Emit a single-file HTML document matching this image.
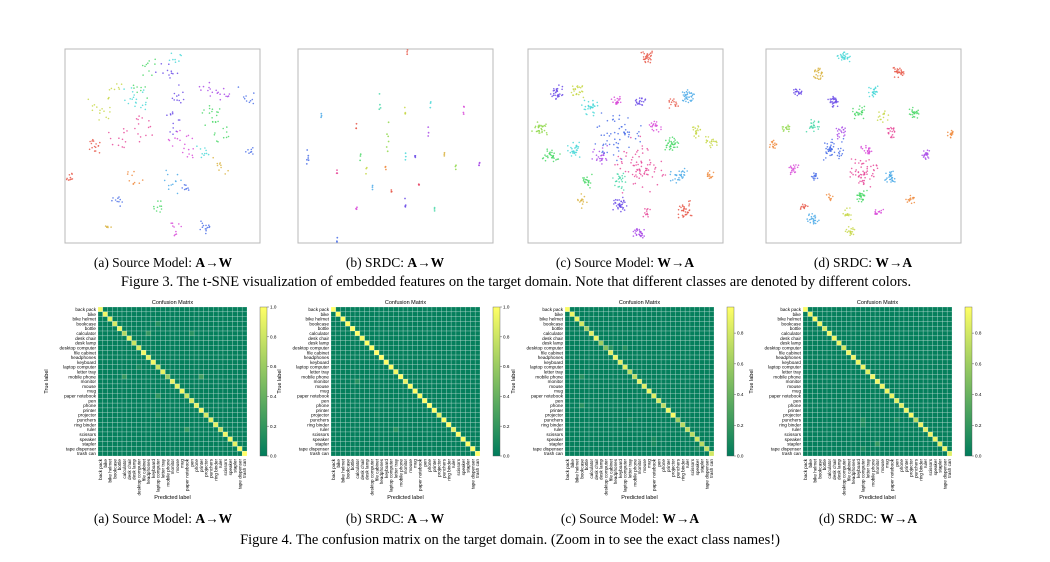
<!DOCTYPE html>
<html><head><meta charset="utf-8"><style>
body{margin:0;background:#fff}
svg text{font-family:"Liberation Serif",serif}
svg text.sans{font-family:"Liberation Sans",sans-serif}
</style></head><body>
<svg id="fig" width="1050" height="557" viewBox="0 0 1050 557" xmlns="http://www.w3.org/2000/svg">
<rect width="1050" height="557" fill="#fff"/>
<g id="tsne"></g><g id="cms"></g>
<g font-size="13.5" text-anchor="middle" fill="#000">
<text x="163" y="267">(a) Source Model: <tspan font-weight="bold">A</tspan>→<tspan font-weight="bold">W</tspan></text>
<text x="395" y="267">(b) SRDC: <tspan font-weight="bold">A</tspan>→<tspan font-weight="bold">W</tspan></text>
<text x="625" y="267">(c) Source Model: <tspan font-weight="bold">W</tspan>→<tspan font-weight="bold">A</tspan></text>
<text x="863" y="267">(d) SRDC: <tspan font-weight="bold">W</tspan>→<tspan font-weight="bold">A</tspan></text>
<text x="516" y="286" font-size="14.5">Figure 3. The t-SNE visualization of embedded features on the target domain. Note that different classes are denoted by different colors.</text>
<text x="163" y="523">(a) Source Model: <tspan font-weight="bold">A</tspan>→<tspan font-weight="bold">W</tspan></text>
<text x="395" y="523">(b) SRDC: <tspan font-weight="bold">A</tspan>→<tspan font-weight="bold">W</tspan></text>
<text x="630" y="523">(c) Source Model: <tspan font-weight="bold">W</tspan>→<tspan font-weight="bold">A</tspan></text>
<text x="868" y="523">(d) SRDC: <tspan font-weight="bold">W</tspan>→<tspan font-weight="bold">A</tspan></text>
<text x="510" y="544" font-size="14.5">Figure 4. The confusion matrix on the target domain. (Zoom in to see the exact class names!)</text>
</g>
</svg>
<script>
const NS="http://www.w3.org/2000/svg";
function mk(tag,attrs,parent){const e=document.createElementNS(NS,tag);for(const k in attrs)e.setAttribute(k,attrs[k]);parent.appendChild(e);return e;}
const palette=["#e8594a","#f08b3e","#d9b340","#c8d84a","#8fd84a","#4ad867","#4ad8a9","#4ad8d8","#4aa9e8","#4a6ee8","#6a4ae8","#a94ae8","#d84ad8","#e84a9a","#e84a6a"];
// t-SNE clusters: [x(0-1), y(0-1), colorIdx, nPoints, spread]
const tsneA=[[0.55,0.05,7,8,0.04],[0.42,0.1,5,10,0.05],[0.53,0.13,10,12,0.05],[0.38,0.2,5,8,0.04],[0.25,0.2,3,8,0.04],[0.36,0.27,7,20,0.05],[0.18,0.3,3,16,0.05],[0.58,0.24,10,10,0.04],[0.74,0.21,11,12,0.04],[0.83,0.24,11,8,0.03],[0.93,0.24,9,10,0.04],[0.76,0.34,5,18,0.05],[0.8,0.44,5,10,0.04],[0.55,0.38,10,12,0.05],[0.4,0.4,13,14,0.06],[0.28,0.46,13,12,0.05],[0.16,0.5,0,16,0.03],[0.6,0.5,12,20,0.06],[0.72,0.53,7,10,0.04],[0.8,0.6,2,10,0.04],[0.95,0.52,9,8,0.02],[0.03,0.66,0,10,0.02],[0.35,0.66,1,10,0.04],[0.55,0.68,8,12,0.05],[0.62,0.72,9,8,0.03],[0.26,0.78,9,10,0.03],[0.47,0.82,5,10,0.03],[0.22,0.91,2,6,0.02],[0.57,0.92,12,10,0.03],[0.72,0.92,9,14,0.03]];
const tsneB=[[0.56,0.01,0,3,0.005],[0.42,0.27,6,4,0.01],[0.55,0.32,3,4,0.008],[0.68,0.3,7,3,0.008],[0.12,0.36,8,3,0.008],[0.85,0.32,12,4,0.008],[0.3,0.4,0,3,0.008],[0.46,0.45,4,6,0.02],[0.67,0.42,11,3,0.008],[0.05,0.58,9,6,0.02],[0.32,0.55,5,3,0.008],[0.55,0.55,7,3,0.008],[0.6,0.58,10,4,0.01],[0.45,0.6,1,3,0.008],[0.75,0.55,2,3,0.008],[0.93,0.57,11,4,0.01],[0.2,0.63,13,3,0.008],[0.62,0.7,14,3,0.008],[0.38,0.72,8,3,0.008],[0.55,0.8,10,4,0.01],[0.3,0.8,12,3,0.008],[0.7,0.82,6,3,0.008],[0.48,0.72,0,3,0.008],[0.81,0.61,4,3,0.008],[0.2,0.98,9,3,0.005],[0.35,0.62,3,3,0.008]];
const tsneC=[[0.61,0.04,0,30,0.025],[0.15,0.22,10,30,0.03],[0.26,0.22,3,25,0.03],[0.32,0.3,7,30,0.035],[0.46,0.27,12,20,0.025],[0.57,0.27,10,20,0.025],[0.74,0.27,0,15,0.03],[0.82,0.25,8,35,0.03],[0.06,0.41,4,30,0.03],[0.24,0.52,7,30,0.03],[0.12,0.55,5,30,0.035],[0.65,0.4,12,20,0.025],[0.74,0.49,5,35,0.03],[0.86,0.43,3,20,0.03],[0.94,0.48,3,20,0.025],[0.37,0.55,11,25,0.04],[0.45,0.45,9,60,0.1],[0.58,0.6,13,80,0.11],[0.3,0.68,5,20,0.03],[0.48,0.68,6,25,0.04],[0.77,0.65,8,30,0.035],[0.93,0.65,1,15,0.02],[0.28,0.78,2,15,0.03],[0.47,0.8,10,35,0.03],[0.61,0.84,13,12,0.02],[0.81,0.83,0,35,0.035],[0.57,0.95,11,30,0.025]];
const tsneD=[[0.4,0.04,7,30,0.025],[0.27,0.13,2,25,0.025],[0.68,0.12,0,30,0.025],[0.16,0.22,10,20,0.02],[0.34,0.27,10,30,0.025],[0.55,0.22,7,25,0.025],[0.48,0.33,5,25,0.03],[0.6,0.35,3,15,0.025],[0.76,0.33,5,25,0.025],[0.1,0.41,4,15,0.02],[0.24,0.4,6,25,0.03],[0.38,0.43,11,20,0.025],[0.64,0.43,13,20,0.025],[0.95,0.44,1,15,0.02],[0.04,0.49,1,15,0.02],[0.34,0.53,9,50,0.05],[0.52,0.52,12,20,0.025],[0.82,0.54,11,20,0.025],[0.5,0.64,13,60,0.06],[0.14,0.62,12,20,0.02],[0.25,0.66,9,15,0.02],[0.64,0.66,8,30,0.025],[0.49,0.76,5,30,0.025],[0.33,0.76,1,10,0.015],[0.74,0.78,1,15,0.02],[0.19,0.81,0,12,0.02],[0.42,0.85,3,15,0.025],[0.58,0.84,12,15,0.02],[0.24,0.87,8,25,0.025],[0.43,0.94,3,20,0.02]];
const tsnePanels=[[65,tsneA,"a"],[298,tsneB,"b"],[528,tsneC,"c"],[766,tsneD,"d"]];
let seed=7;function rnd(){seed=(seed*16807)%2147483647;return seed/2147483647;}
const tg=document.getElementById('tsne');
tsnePanels.forEach(([x0,cl,id],pi)=>{
  const g=mk('g',{},tg);
  
  
  const fr=mk('rect',{x:x0,y:49,width:195,height:194,fill:'#fff',stroke:'#b8b8b8','stroke-width':1},g);
  
  
  cl.forEach((c,ci)=>{
    const cg=mk('g',{fill:palette[c[2]]},g);
    
    
    const stretch=pi===1?[0.3,3]:[1,1];
    for(let k=0;k<c[3];k++){
      const dx=(rnd()+rnd()-1)*c[4]*1.4*stretch[0], dy=(rnd()+rnd()-1)*c[4]*1.4*stretch[1];
      const px=Math.min(0.995,Math.max(0.005,c[0]+dx)), py=Math.min(0.995,Math.max(0.005,c[1]+dy));
      mk('circle',{cx:(x0+px*195).toFixed(1),cy:(49+py*194).toFixed(1),r:pi===1?0.9:0.8,'fill-opacity':0.85},cg);
    }
  });
});
// Confusion matrices
const classes=["back pack","bike","bike helmet","bookcase","bottle","calculator","desk chair","desk lamp","desktop computer","file cabinet","headphones","keyboard","laptop computer","letter tray","mobile phone","monitor","mouse","mug","paper notebook","pen","phone","printer","projector","punchers","ring binder","ruler","scissors","speaker","stapler","tape dispenser","trash can"];
const diagA=[0.95,0.95,0.9,0.85,0.9,0.7,0.9,0.8,0.85,0.95,0.9,0.95,0.8,0.9,0.6,0.9,0.9,0.95,0.8,0.85,0.9,0.95,0.85,0.9,0.9,0.75,0.95,0.95,0.9,0.95,1.0];
const diagB=[1,1,1,1,1,1,0.97,1,1,1,1,1,1,0.95,1,0.9,1,1,1,1,1,1,0.9,1,1,0.9,1,1,1,1,1];
const diagC=[0.95,0.9,0.9,0.8,0.6,0.85,0.9,0.6,0.5,0.85,0.9,0.85,0.85,0.7,0.7,0.85,0.85,0.9,0.85,0.8,0.7,0.9,0.95,0.6,0.7,0.7,0.7,0.8,0.7,0.75,0.8];
const diagD=[0.95,0.9,0.95,0.9,0.8,0.9,0.9,0.9,0.8,0.9,0.9,0.9,0.9,0.85,0.9,0.9,0.9,0.9,0.9,0.85,0.85,0.9,0.95,0.7,0.9,0.85,0.9,0.9,0.85,0.9,0.85];
// off-diagonal entries: [row, col, value]
const offA=[[3,12,0.15],[5,10,0.2],[5,19,0.15],[14,5,0.2],[14,21,0.25],[18,12,0.2],[22,12,0.1],[25,18,0.2],[12,8,0.1]];
const offB=[[15,5,0.15],[25,13,0.15],[22,9,0.05]];
const offC=[[8,9,0.15],[8,12,0.15],[14,3,0.15],[20,3,0.15],[23,13,0.1],[27,18,0.1],[28,18,0.1],[29,27,0.1]];
const offD=[[23,12,0.15],[24,12,0.1],[28,15,0.2],[29,12,0.1],[23,19,0.1]];
const cmPanels=[[98,diagA,offA,"a",[0,1]],[331,diagB,offB,"b",[0,1]],[565,diagC,offC,"c",[0,0.97]],[803,diagD,offD,"d",[0,0.97]]];
function cmap(v){v=Math.max(0,Math.min(1,v));return `rgb(${Math.round(255*v)},${Math.round(124+131*v)},${Math.round(92+10*v)})`;}
const cg=document.getElementById('cms');
const Y0=307,SZ=149,n=classes.length,cs=SZ/n;
cmPanels.forEach(([x0,diag,off,id,rng])=>{
  const g=mk('g',{},cg);
  
  
  const sc=v=>(v-rng[0])/(rng[1]-rng[0]);
  for(let r=0;r<n;r++)for(let c=0;c<n;c++){
    let v=r===c?diag[r]:0.02;
    off.forEach(o=>{if(o[0]===r&&o[1]===c&&r!==c)v=o[2];});
    const cell=mk('rect',{x:(x0+c*cs).toFixed(2),y:(Y0+r*cs).toFixed(2),width:cs.toFixed(2),height:cs.toFixed(2),fill:cmap(sc(v)),stroke:'rgba(255,255,255,0.4)','stroke-width':0.5},g);
    
    
  }
  const t=mk('text',{class:'sans',x:x0+SZ/2,y:Y0-3,'font-size':5.5,'text-anchor':'middle'},g);
  t.textContent='Confusion Matrix';
  
  
  classes.forEach((name,i)=>{
    const yl=mk('text',{class:'sans',x:x0-2,y:(Y0+i*cs+cs/2+1.6).toFixed(1),'font-size':4.6,'text-anchor':'end'},g);
    yl.textContent=name;
    
    
    const xx=x0+i*cs+cs/2+1.6, yy=Y0+SZ+3;
    const xl=mk('text',{class:'sans',x:xx.toFixed(1),y:yy,'font-size':4.6,'text-anchor':'end',transform:`rotate(-90 ${xx.toFixed(1)} ${yy})`},g);
    xl.textContent=name;
    
    
  });
  const pl=mk('text',{class:'sans',x:x0+SZ/2,y:Y0+SZ+43,'font-size':5.5,'text-anchor':'middle'},g);
  pl.textContent='Predicted label';
  
  
  const tlx=x0-50,tly=Y0+SZ/2;
  const tl=mk('text',{class:'sans',x:tlx,y:tly,'font-size':5.5,'text-anchor':'middle',transform:`rotate(-90 ${tlx} ${tly})`},g);
  tl.textContent='True label';
  
  
  const cbx=x0+SZ+13;
  const gid='grad'+id;
  const lg=mk('linearGradient',{id:gid,x1:0,y1:1,x2:0,y2:0},g);
  mk('stop',{offset:0,'stop-color':cmap(0)},lg);mk('stop',{offset:1,'stop-color':cmap(1)},lg);
  const cb=mk('rect',{x:cbx,y:Y0,width:7,height:SZ,fill:`url(#${gid})`,stroke:'#555','stroke-width':0.4},g);
  
  
  [0,0.2,0.4,0.6,0.8,1.0].forEach(tv=>{
    if(tv>rng[1])return;
    const yy=Y0+SZ-(tv-rng[0])/(rng[1]-rng[0])*SZ;
    mk('line',{x1:cbx+7,x2:cbx+9,y1:yy,y2:yy,stroke:'#333','stroke-width':0.4},g);
    const tx=mk('text',{class:'sans',x:cbx+10,y:yy+1.6,'font-size':4.6},g);
    tx.textContent=tv.toFixed(1);
    
    
  });
});
</script>
</body></html>
